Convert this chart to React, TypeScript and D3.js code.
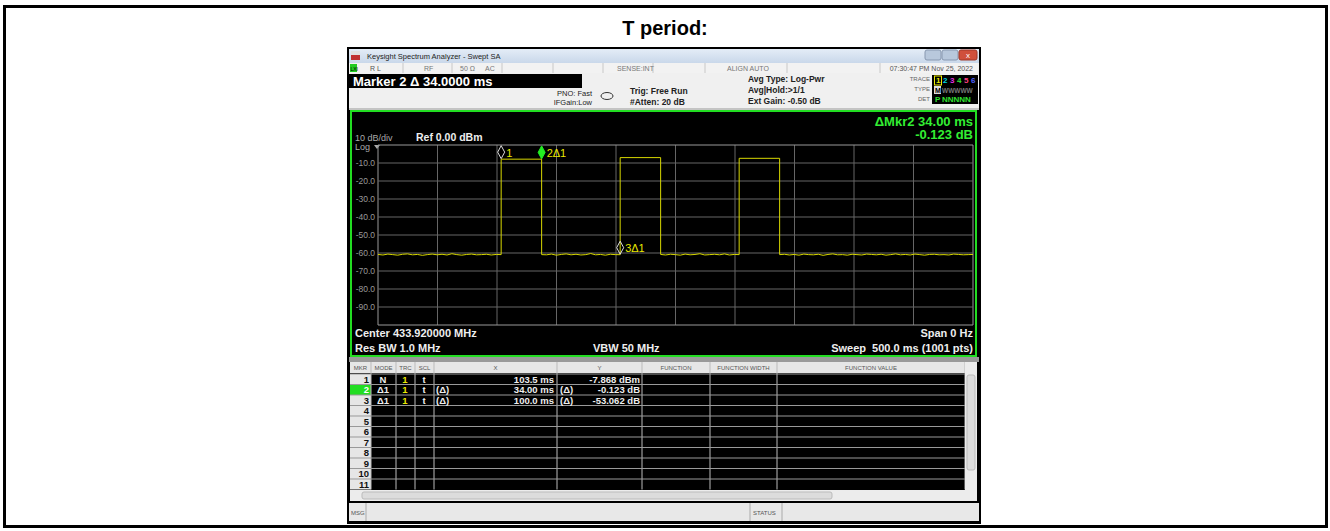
import React from 'react'
import * as d3 from 'd3'

// sweep settings
const sweepMs = 500
const yTickLabels = ['-10.0', '-20.0', '-30.0', '-40.0', '-50.0', '-60.0', '-70.0', '-80.0', '-90.0']
const yTickValues = [-10, -20, -30, -40, -50, -60, -70, -80, -90]

// pulses: start time (ms), width and top level (dBm)
const pulseStartMs = [103.5, 203.5, 303.5]
const pulseWidthMs = 34
const pulseTopDbm = [-7.868, -7.0, -7.4]

// noise floor samples between the pulses (dBm)
const floorBefore = [-60.8, -61.1, -60.6, -60.9, -61.2, -60.7, -60.5, -61.0, -60.8, -61.3, -60.9, -60.6, -61.0, -60.7, -61.1, -60.4, -60.9, -61.2, -60.8, -60.6, -61.0, -60.9, -60.7, -61.1, -60.8, -60.9]
const floorGap1 = [-60.9, -61.0, -60.6, -61.2, -60.8, -60.5, -61.0, -60.7, -61.1, -60.9, -60.3, -61.0, -60.8, -61.2, -60.7, -60.9, -60.93]
const floorGap2 = [-60.8, -61.1, -60.7, -60.9, -61.2, -60.6, -61.0, -60.8, -60.4, -61.1, -60.9, -60.7, -61.0, -60.5, -61.1, -60.8, -60.9]
const floorAfter = [-60.9, -60.7, -61.1, -60.8, -61.2, -60.6, -60.9, -61.0, -60.7, -61.3, -60.8, -60.5, -61.0, -60.9, -61.2, -60.7, -60.9, -61.1, -60.6, -60.8, -61.0, -60.7, -61.2, -60.9, -60.5, -61.0, -60.8, -61.1, -60.6, -60.9, -61.2, -60.8, -60.7, -61.0, -60.9, -61.1, -60.6, -60.8, -61.0, -60.9, -60.8]

// markers
const markerNames = ['1', '2Δ1', '3Δ1']
const markerMs = [103.5, 137.5, 203.5]
const markerDbm = [-7.868, -7.991, -60.93]

// marker table
const tableCols = ['MKR', 'MODE', 'TRC', 'SCL', 'X', 'Y', 'FUNCTION', 'FUNCTION WIDTH', 'FUNCTION VALUE']
const tableModes = ['N', 'Δ1', 'Δ1']
const tableX = ['103.5 ms', '34.00 ms', '100.0 ms']
const tableY = ['-7.868 dBm', '-0.123 dB', '-53.062 dB']

const FONT = 'Liberation Sans, Arial, sans-serif'

const x = d3.scaleLinear().domain([0, sweepMs]).range([378, 973])
const y = d3.scaleLinear().domain([0, -100]).range([145, 325])

function floorPoints(vals: number[], t0: number, t1: number): [number, number][] {
  return vals.map((v, i) => [t0 + ((t1 - t0) * i) / (vals.length - 1), v])
}

function buildTrace(): [number, number][] {
  const floors = [floorBefore, floorGap1, floorGap2, floorAfter]
  const pts: [number, number][] = []
  let t0 = 0
  floors.forEach((f, i) => {
    const t1 = i < pulseStartMs.length ? pulseStartMs[i] : sweepMs
    pts.push(...floorPoints(f, t0, t1))
    if (i < pulseStartMs.length) {
      const s = pulseStartMs[i]
      const e = s + pulseWidthMs
      pts.push([s, pulseTopDbm[i]], [e, pulseTopDbm[i]])
      t0 = e
    }
  })
  return pts
}

const App = () => {
  const trace = buildTrace()
  const line = d3.line<[number, number]>().x(d => x(d[0])).y(d => y(d[1]))
  const colX = [350, 371, 396, 415, 434, 557, 642, 710, 777, 965]
  const rowTop = 374
  const rowH = 10.5
  const rows = d3.range(11)
  const traceColors = ['#e8e800', '#00d8e0', '#e030e0', '#30e030', '#ff4080', '#5060ff']

  return (
    <svg width={1330} height={531} style={{ position: 'absolute', left: 0, top: 0 }} fontFamily={FONT}>
      <rect x={0} y={0} width={1330} height={531} fill="#fff" />
      <rect x={4.5} y={6.5} width={1322} height={520} fill="none" stroke="#000" strokeWidth={3} />
      <text x={665} y={35} textAnchor="middle" fontSize={20} fontWeight="bold">T period:</text>

      {/* screenshot frame */}
      <rect x={347} y={47} width={634} height={477} fill="#000" />
      <defs>
        <linearGradient id="tb" x1="0" x2="0" y1="0" y2="1">
          <stop offset="0" stopColor="#e4edf7" />
          <stop offset="1" stopColor="#c9d8ea" />
        </linearGradient>
      </defs>
      <rect x={349} y={49} width={630} height={14} fill="url(#tb)" />
      <rect x={351} y={51} width={9} height={9} fill="#c03030" />
      <rect x={351} y={51} width={9} height={4} fill="#e0e0e0" />
      <text x={367} y={59} fontSize={7.5} fill="#222">Keysight Spectrum Analyzer - Swept SA</text>
      <rect x={925} y={50} width={16} height={10} fill="#b8c8dc" stroke="#8898b0" rx={2} />
      <rect x={942} y={50} width={16} height={10} fill="#b8c8dc" stroke="#8898b0" rx={2} />
      <rect x={959} y={50} width={18} height={10} fill="#d0503c" stroke="#a03828" rx={2} />
      <text x={968} y={58} textAnchor="middle" fontSize={8} fill="#fff">x</text>

      {/* status row */}
      <rect x={349} y={63} width={630} height={10} fill="#f2f2f2" />
      <rect x={350} y={64} width={7} height={8} fill="#22cc22" />
      <text x={350.5} y={70.5} fontSize={5} fill="#000">LXI</text>
      {[403, 452, 502, 553, 603, 653, 705, 787, 880].map(v => (
        <line key={v} x1={v} x2={v} y1={63} y2={73} stroke="#c8c8c8" />
      ))}
      <text x={370} y={71} fontSize={7} fill="#555">R L</text>
      <text x={424} y={71} fontSize={7} fill="#777">RF</text>
      <text x={460} y={71} fontSize={7} fill="#777">50 Ω</text>
      <text x={485} y={71} fontSize={7} fill="#777">AC</text>
      <text x={617} y={71} fontSize={7} fill="#777">SENSE:INT</text>
      <text x={727} y={71} fontSize={7} fill="#777">ALIGN AUTO</text>
      <text x={973} y={71} textAnchor="end" fontSize={7} fill="#555">07:30:47 PM Nov 25, 2022</text>

      {/* info area */}
      <rect x={349} y={73} width={630} height={37} fill="#f0f0f0" />
      <rect x={349} y={74} width={233} height={14} fill="#000" />
      <text x={353} y={86} fontSize={13} fontWeight="bold" fill="#fff">Marker 2 Δ 34.0000 ms</text>
      <text x={592} y={96} textAnchor="end" fontSize={7.5} fill="#222">PNO: Fast</text>
      <text x={592} y={105} textAnchor="end" fontSize={7.5} fill="#222">IFGain:Low</text>
      <ellipse cx={607} cy={96} rx={6} ry={3.5} fill="none" stroke="#333" />
      <text x={630} y={94} fontSize={8.5} fontWeight="bold" fill="#222">Trig: Free Run</text>
      <text x={630} y={105} fontSize={8.5} fontWeight="bold" fill="#222">#Atten: 20 dB</text>
      <text x={748} y={82} fontSize={8.5} fontWeight="bold" fill="#222">Avg Type: Log-Pwr</text>
      <text x={748} y={93} fontSize={8.5} fontWeight="bold" fill="#222">Avg|Hold:&gt;1/1</text>
      <text x={748} y={104} fontSize={8.5} fontWeight="bold" fill="#222">Ext Gain: -0.50 dB</text>
      <text x={930} y={81} textAnchor="end" fontSize={6} fill="#666">TRACE</text>
      <text x={930} y={91} textAnchor="end" fontSize={6} fill="#666">TYPE</text>
      <text x={930} y={101} textAnchor="end" fontSize={6} fill="#666">DET</text>
      <rect x={932} y={75} width={46} height={29} fill="#000" />
      {traceColors.map((c, i) => (
        <text key={c} x={936 + i * 7} y={83} fontSize={8} fontWeight="bold" fill={c}>{i + 1}</text>
      ))}
      <rect x={934.5} y={76} width={7} height={9} fill="none" stroke="#e8e800" />
      <rect x={934} y={86} width={7} height={8} fill="#ddd" />
      <text x={935} y={93} fontSize={7} fontWeight="bold" fill="#000">M</text>
      <text x={942} y={93} fontSize={6.5} fontWeight="bold" fill="#777">WWWWW</text>
      <text x={935} y={102} fontSize={8} fontWeight="bold" fill="#30e030">P</text>
      <text x={942} y={102} fontSize={8} fontWeight="bold" fill="#30e030">NNNNN</text>
      <line x1={349} x2={979} y1={109} y2={109} stroke="#999" />

      {/* plot area */}
      <rect x={351} y={111} width={625} height={245} fill="#000" stroke="#22dd22" strokeWidth={2} />
      <text x={355} y={141} fontSize={9} fill="#aaa">10 dB/div</text>
      <text x={416} y={141} fontSize={10.5} fontWeight="bold" fill="#eee">Ref 0.00 dBm</text>
      <text x={355} y={150} fontSize={9} fill="#aaa">Log</text>
      <path d="M374,145 L380,145 L377,149 Z" fill="#aaa" />
      <text x={973} y={126} textAnchor="end" fontSize={13} fontWeight="bold" fill="#33ee33">ΔMkr2 34.00 ms</text>
      <text x={973} y={139} textAnchor="end" fontSize={13} fontWeight="bold" fill="#33ee33">-0.123 dB</text>

      {x.ticks(10).map(t => (
        <line key={'v' + t} x1={x(t)} x2={x(t)} y1={y(0)} y2={y(-100)} stroke={t === 0 || t === sweepMs ? '#999' : '#666'} />
      ))}
      {y.ticks(10).map(t => (
        <line key={'h' + t} x1={x(0)} x2={x(sweepMs)} y1={y(t)} y2={y(t)} stroke={t === 0 || t === -100 ? '#999' : '#666'} />
      ))}
      {yTickValues.map((v, i) => (
        <text key={v} x={375} y={y(v) + 3} textAnchor="end" fontSize={8.5} fill="#999">{yTickLabels[i]}</text>
      ))}

      <path d={line(trace) || ''} fill="none" stroke="#d8d800" strokeWidth={1} />

      {markerMs.map((t, i) => {
        const cx = x(t)
        const cy = y(markerDbm[i]) - 7
        const green = i === 1
        return (
          <g key={i}>
            <path
              d={`M${cx},${cy - 6.5} L${cx + 3.5},${cy} L${cx},${cy + 6.5} L${cx - 3.5},${cy} Z`}
              fill={green ? '#22ee22' : 'none'}
              stroke={green ? '#22ee22' : '#ddd'}
              strokeWidth={1}
            />
            <text x={cx + 5} y={cy + 4.5} fontSize={11} fill="#e8e800">{markerNames[i]}</text>
          </g>
        )
      })}

      <text x={355} y={337} fontSize={11} fontWeight="bold" fill="#eee">Center 433.920000 MHz</text>
      <text x={355} y={351.5} fontSize={11} fontWeight="bold" fill="#eee">Res BW 1.0 MHz</text>
      <text x={593} y={351.5} fontSize={11} fontWeight="bold" fill="#eee">VBW 50 MHz</text>
      <text x={973} y={337} textAnchor="end" fontSize={11} fontWeight="bold" fill="#eee">Span 0 Hz</text>
      <text x={973} y={351.5} textAnchor="end" fontSize={11} fontWeight="bold" fill="#eee" style={{ whiteSpace: 'pre' }}>Sweep  500.0 ms (1001 pts)</text>

      {/* marker table */}
      <rect x={349} y={357} width={630} height={5} fill="#999" />
      <rect x={350} y={362} width={615} height={11} fill="#e6e6e6" />
      {tableCols.map((c, i) => (
        <text key={c} x={(colX[i] + colX[i + 1]) / 2} y={370} textAnchor="middle" fontSize={6} fill="#555">{c}</text>
      ))}
      <rect x={350} y={rowTop} width={21} height={rowH * 11} fill="#e6e6e6" />
      <rect x={350} y={rowTop + rowH} width={21} height={rowH} fill="#22dd22" />
      {colX.slice(1).map(v => (
        <line key={'c' + v} x1={v} x2={v} y1={362} y2={rowTop + rowH * 11} stroke="#bbb" />
      ))}
      {rows.map(r => (
        <line key={'r' + r} x1={350} x2={965} y1={rowTop + r * rowH} y2={rowTop + r * rowH} stroke="#999" />
      ))}
      {rows.map(r => (
        <text key={'n' + r} x={369} y={rowTop + r * rowH + 8.5} textAnchor="end" fontSize={9.5} fontWeight="bold" fill={r === 1 ? '#fff' : '#111'}>{r + 1}</text>
      ))}
      {tableModes.map((m, r) => {
        const by = rowTop + r * rowH + 8.5
        return (
          <g key={'d' + r} fontSize={9.5} fontWeight="bold" fill="#eee">
            <text x={383} y={by} textAnchor="middle">{m}</text>
            <text x={405} y={by} textAnchor="middle" fill="#e8e800">1</text>
            <text x={424} y={by} textAnchor="middle">t</text>
            {r > 0 && <text x={436} y={by}>(Δ)</text>}
            <text x={554} y={by} textAnchor="end">{tableX[r]}</text>
            {r > 0 && <text x={560} y={by}>(Δ)</text>}
            <text x={640} y={by} textAnchor="end">{tableY[r]}</text>
          </g>
        )
      })}
      {/* scrollbars */}
      <rect x={965} y={362} width={12} height={128} fill="#ececec" />
      <rect x={967} y={375} width={8} height={95} fill="#dcdcdc" stroke="#bbb" rx={2} />
      <rect x={350} y={490} width={627} height={11} fill="#ececec" />
      <rect x={362} y={492} width={470} height={7} fill="#dcdcdc" stroke="#bbb" rx={2} />

      {/* status bar */}
      <rect x={349} y={503} width={630} height={18} fill="#e8e8e8" />
      <line x1={366} x2={366} y1={503} y2={521} stroke="#aaa" />
      <line x1={750} x2={750} y1={503} y2={521} stroke="#aaa" />
      <line x1={782} x2={782} y1={503} y2={521} stroke="#aaa" />
      <text x={351} y={515} fontSize={6} fill="#555">MSG</text>
      <text x={753} y={515} fontSize={6} fill="#555">STATUS</text>
    </svg>
  )
}

export default App
